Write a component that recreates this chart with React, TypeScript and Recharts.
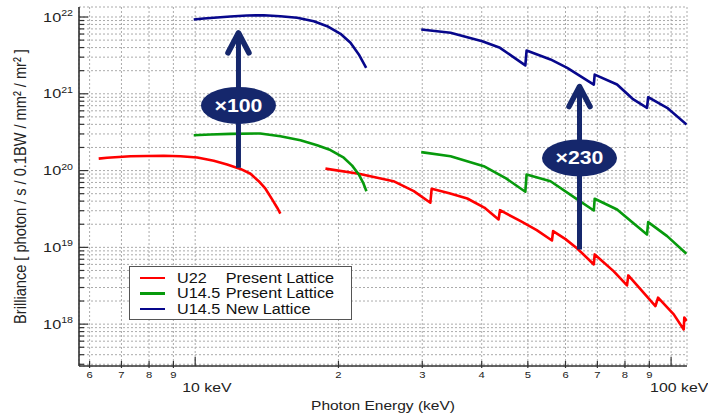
import {
  LineChart,
  Line,
  XAxis,
  YAxis,
  CartesianGrid,
  Legend,
  Label,
  ReferenceLine,
  ReferenceDot,
} from "recharts";

const RED = "#ff0000";
const GREEN = "#079a0c";
const BLUE = "#07078c";
const NAVY = "#15276c";
const AXIS = "#333";

// photon energy (keV) / brilliance, one array pair per segment
const red1E = [6.27, 6.53, 7.31, 8.59, 9.31, 10.1, 10.94, 11.67, 12.45, 13.07, 13.6, 14.05, 14.51, 14.87, 15.1];
const red1B = [1.43e20, 1.47e20, 1.54e20, 1.56e20, 1.54e20, 1.48e20, 1.34e20, 1.2e20, 1.05e20, 9.08e19, 7.27e19, 5.8e19, 4.21e19, 3.28e19, 2.76e19];

const red2E = [18.78, 22.07, 26.1, 28.8, 31.2, 31.4, 34.2, 37.3, 40.5, 43.4, 43.7, 48.3, 52.2, 56.2, 56.5, 60.0, 63.5, 68.8, 69.1, 75.7, 80.8, 81.3, 87.6, 92.7, 93.9, 101.3, 106.3, 106.6, 107.9];
const red2B = [1.06e20, 9.08e19, 7.27e19, 5.4e19, 3.81e19, 5.8e19, 5.05e19, 4.33e19, 3.3e19, 2.31e19, 3.05e19, 2.19e19, 1.68e19, 1.23e19, 1.63e19, 1.28e19, 9.68e18, 5.99e18, 8.09e18, 4.9e18, 3.19e18, 4.31e18, 2.56e18, 1.72e18, 2.21e18, 1.34e18, 8.53e17, 1.22e18, 1.1e18];

const green1E = [9.93, 10.77, 11.86, 13.7, 15.1, 16.64, 18.04, 19.24, 20.52, 21.37, 22.07, 22.54, 22.9];
const green1B = [2.89e20, 2.95e20, 3.01e20, 3.04e20, 2.8e20, 2.49e20, 2.14e20, 1.85e20, 1.47e20, 1.16e20, 8.9e19, 6.93e19, 5.39e19];

const green2E = [29.85, 34.4, 40.4, 45.0, 49.4, 49.7, 55.8, 63.5, 68.8, 69.1, 77.0, 83.0, 89.0, 89.5, 98.1, 107.7];
const green2B = [1.74e20, 1.54e20, 1.14e20, 7.9e19, 5.3e19, 8.9e19, 7.27e19, 4.21e19, 3.02e19, 4.3e19, 3.11e19, 2.1e19, 1.47e19, 2.13e19, 1.4e19, 8.26e18];

const blue1E = [9.93, 10.43, 10.94, 11.86, 12.86, 13.94, 15.1, 16.38, 17.75, 18.94, 20.2, 21.2, 22.07, 22.87];
const blue1B = [9.28e21, 9.56e21, 9.77e21, 1.015e22, 1.047e22, 1.055e22, 1.024e22, 9.77e21, 8.82e21, 7.59e21, 6.04e21, 4.61e21, 3.25e21, 2.18e21];

const blue2E = [29.85, 34.4, 40.1, 43.7, 49.4, 49.7, 55.8, 60.5, 68.8, 69.1, 77.0, 83.0, 89.0, 89.5, 98.1, 107.8];
const blue2B = [6.88e21, 6.23e21, 4.84e21, 3.97e21, 2.34e21, 3.66e21, 2.8e21, 2.18e21, 1.32e21, 1.78e21, 1.32e21, 8.6e20, 6.57e20, 9.03e20, 6.57e20, 3.98e20];

const legendNames = ["U22", "U14.5", "U14.5"];
const legendLattice = ["Present Lattice", "Present Lattice", "New Lattice"];
const legendColors = [RED, GREEN, BLUE];

// gain arrows: energy, start, tip, badge position, badge text
const arrowE = [12.33, 64.2];
const arrowFrom = [1.09e20, 9.4e18];
const arrowTip = [6.4e21, 1.28e21];
const badgeB = [7.05e20, 1.46e20];
const badgeText = ["×100", "×230"];

const xTicks = [6, 7, 8, 9, 10, 20, 30, 40, 50, 60, 70, 80, 90, 100];
const yTicks = [
  3e17, 4e17, 5e17, 6e17, 7e17, 8e17, 9e17,
  1e18, 2e18, 3e18, 4e18, 5e18, 6e18, 7e18, 8e18, 9e18,
  1e19, 2e19, 3e19, 4e19, 5e19, 6e19, 7e19, 8e19, 9e19,
  1e20, 2e20, 3e20, 4e20, 5e20, 6e20, 7e20, 8e20, 9e20,
  1e21, 2e21, 3e21, 4e21, 5e21, 6e21, 7e21, 8e21, 9e21,
  1e22,
];
const xDomain = [5.7, 108];
const yDomain = [2.85e17, 1.35e22];

const seg = (E: number[], B: number[]) => E.map((e, i) => ({ e, b: B[i] }));

const isDecade = (v: number) => {
  const l = Math.log10(v);
  return Math.abs(l - Math.round(l)) < 1e-6;
};

function BottomTick({ x, y, payload }: any) {
  const v = payload.value;
  const major = isDecade(v);
  return (
    <g>
      <line x1={x} x2={x} y1={y - (major ? 9 : 5)} y2={y + (major ? 0 : 2)} stroke={AXIS} strokeWidth={1.2} />
      {major ? (
        <text
          transform={`translate(${x - (v === 10 ? 13 : 21)},${y + 26}) scale(1.22,1)`}
          fontSize={13}
          fill="#222"
        >
          {v} keV
        </text>
      ) : (
        <text transform={`translate(${x},${y + 11.5}) scale(1.25,1)`} textAnchor="middle" fontSize={9} fill="#222">
          {String(v)[0]}
        </text>
      )}
    </g>
  );
}

function TopTick({ x, y, payload }: any) {
  const major = isDecade(payload.value);
  return <line x1={x} x2={x} y1={y} y2={y + (major ? 9 : 7)} stroke={AXIS} strokeWidth={1.2} />;
}

function LeftTick({ x, y, payload }: any) {
  const v = payload.value;
  const major = isDecade(v);
  return (
    <g>
      <line x1={x} x2={x + (major ? 9 : 5)} y1={y} y2={y} stroke={AXIS} strokeWidth={1.2} />
      {major && (
        <text transform={`translate(${x - 6},${y + 4.5}) scale(1.25,1)`} textAnchor="end" fontSize={13} fill="#222">
          10
          <tspan dy={-5.5} fontSize={8.5}>
            {Math.round(Math.log10(v))}
          </tspan>
        </text>
      )}
    </g>
  );
}

function RightTick({ x, y, payload }: any) {
  const major = isDecade(payload.value);
  return <line x1={x - (major ? 8 : 4)} x2={x} y1={y} y2={y} stroke={AXIS} strokeWidth={1.2} />;
}

function XTitle({ viewBox }: any) {
  const cx = viewBox.x + viewBox.width / 2;
  return (
    <text transform={`translate(${cx},${viewBox.y + viewBox.height - 4}) scale(1.15,1)`} textAnchor="middle" fontSize={13.5} fill="#222">
      Photon Energy (keV)
    </text>
  );
}

function YTitle({ viewBox }: any) {
  const cy = viewBox.y + viewBox.height / 2;
  return (
    <text transform={`translate(26,${cy}) rotate(-90) scale(1,1.15)`} textAnchor="middle" fontSize={14.6} fill="#222">
      Brilliance [ photon / s / 0.1BW / mm² / mr² ]
    </text>
  );
}

function ArrowHead({ cx, cy }: any) {
  return (
    <path
      d={`M${cx - 10.5},${cy + 21} L${cx},${cy + 1} L${cx + 10.5},${cy + 21}`}
      fill="none"
      stroke={NAVY}
      strokeWidth={5.5}
      strokeLinecap="round"
      strokeLinejoin="round"
    />
  );
}

function makeBadge(text: string) {
  return ({ cx, cy }: any) => (
    <g>
      <ellipse cx={cx} cy={cy} rx={37.5} ry={18.5} fill={NAVY} />
      <text transform={`translate(${cx},${cy + 6.5}) scale(1.15,1)`} textAnchor="middle" fontSize={18.5} fontWeight="bold" fill="#fff">
        {text}
      </text>
    </g>
  );
}

function LegendBox() {
  return (
    <div
      style={{
        width: 223,
        height: 54,
        boxSizing: "border-box",
        border: "1.3px solid #555",
        background: "#fff",
        position: "relative",
      }}
    >
      {legendNames.map((n, i) => (
        <div key={i}>
          <div
            style={{
              position: "absolute",
              left: 10,
              top: 9.5 + i * 15.5,
              width: 25,
              height: 2.6,
              background: legendColors[i],
            }}
          />
          <div
            style={{
              position: "absolute",
              left: 47,
              top: 2.5 + i * 15.5,
              fontSize: 14,
              lineHeight: "16px",
              whiteSpace: "nowrap",
              color: "#111",
              transform: "scaleX(1.16)",
              transformOrigin: "left center",
            }}
          >
            <span style={{ display: "inline-block", width: 42 }}>{n}</span>
            {legendLattice[i]}
          </div>
        </div>
      ))}
    </div>
  );
}

export default function App() {
  const series = [
    { d: seg(red1E, red1B), c: RED },
    { d: seg(red2E, red2B), c: RED },
    { d: seg(green1E, green1B), c: GREEN },
    { d: seg(green2E, green2B), c: GREEN },
    { d: seg(blue1E, blue1B), c: BLUE },
    { d: seg(blue2E, blue2B), c: BLUE },
  ];
  return (
    <div
      style={{
        position: "absolute",
        left: 0,
        top: 0,
        width: 708,
        height: 414,
        background: "#fff",
        fontFamily: '"Liberation Sans", Arial, sans-serif',
      }}
    >
      <LineChart width={708} height={414} margin={{ top: 7, right: 21, bottom: 0, left: 0 }}>
        <CartesianGrid stroke="#a2a2a2" strokeDasharray="2 2" strokeWidth={0.9} />
        <XAxis
          type="number"
          dataKey="e"
          scale="log"
          domain={xDomain}
          allowDataOverflow
          ticks={xTicks}
          interval={0}
          height={48}
          tickSize={0}
          tickMargin={0}
          tickLine={false}
          tick={<BottomTick />}
          axisLine={{ stroke: AXIS, strokeWidth: 1.6 }}
        >
          <Label content={XTitle} />
        </XAxis>
        <XAxis
          xAxisId="top"
          orientation="top"
          type="number"
          dataKey="e"
          scale="log"
          domain={xDomain}
          allowDataOverflow
          ticks={xTicks}
          interval={0}
          height={0}
          tickSize={0}
          tickMargin={0}
          tickLine={false}
          tick={<TopTick />}
          axisLine={{ stroke: AXIS, strokeWidth: 1.6 }}
        />
        <YAxis
          type="number"
          dataKey="b"
          scale="log"
          domain={yDomain}
          allowDataOverflow
          ticks={yTicks}
          interval={0}
          width={79}
          tickSize={0}
          tickMargin={0}
          tickLine={false}
          tick={<LeftTick />}
          axisLine={{ stroke: AXIS, strokeWidth: 1.6 }}
        >
          <Label content={YTitle} />
        </YAxis>
        <YAxis
          yAxisId="right"
          orientation="right"
          type="number"
          dataKey="b"
          scale="log"
          domain={yDomain}
          allowDataOverflow
          ticks={yTicks}
          interval={0}
          width={0}
          tickSize={0}
          tickMargin={0}
          tickLine={false}
          tick={<RightTick />}
          axisLine={{ stroke: AXIS, strokeWidth: 1.6 }}
        />
        {series.map((s, i) => (
          <Line
            key={i}
            data={s.d}
            dataKey="b"
            type="linear"
            stroke={s.c}
            strokeWidth={2.6}
            strokeLinejoin="round"
            dot={false}
            activeDot={false}
            isAnimationActive={false}
            legendType="none"
          />
        ))}
        {arrowE.map((e, i) => (
          <ReferenceLine
            key={`s${i}`}
            segment={[
              { x: e, y: arrowFrom[i] },
              { x: e, y: arrowTip[i] },
            ]}
            stroke={NAVY}
            strokeWidth={5}
            ifOverflow="visible"
          />
        ))}
        {arrowE.map((e, i) => (
          <ReferenceDot key={`h${i}`} x={e} y={arrowTip[i]} r={1} shape={ArrowHead} ifOverflow="visible" />
        ))}
        {arrowE.map((e, i) => (
          <ReferenceDot key={`b${i}`} x={e} y={badgeB[i]} r={1} shape={makeBadge(badgeText[i])} ifOverflow="visible" />
        ))}
        <Legend
          content={LegendBox}
          layout="horizontal"
          verticalAlign="middle"
          align="center"
          wrapperStyle={{ left: 129, top: 266, width: 223, height: 54 }}
        />
      </LineChart>
    </div>
  );
}
